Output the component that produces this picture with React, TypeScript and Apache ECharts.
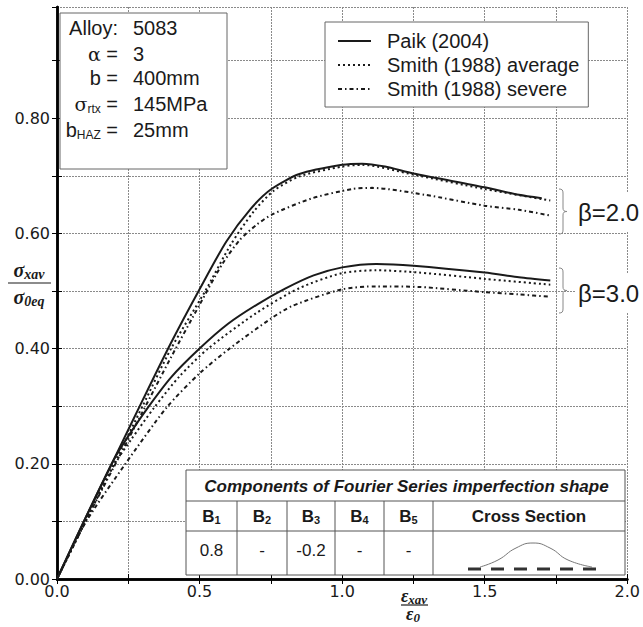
import React, { useEffect, useRef } from 'react';
import * as echarts from 'echarts';

// Normalised load-shortening curves: [strain ratio, stress ratio]
const paikBeta2: [number, number][] = [
  [0, 0], [0.1, 0.106], [0.2, 0.208], [0.3, 0.31], [0.4, 0.41], [0.5, 0.503],
  [0.594, 0.586], [0.68, 0.643], [0.752, 0.677], [0.85, 0.703], [1.0, 0.719],
  [1.07, 0.721], [1.15, 0.716], [1.25, 0.704], [1.5, 0.68], [1.62, 0.667], [1.7, 0.661],
];
const smithAvgBeta2: [number, number][] = [
  [0, 0], [0.1, 0.1], [0.2, 0.2], [0.3, 0.3], [0.4, 0.4], [0.52, 0.5],
  [0.61, 0.581], [0.69, 0.638], [0.76, 0.674], [0.85, 0.699], [1.0, 0.716],
  [1.07, 0.719], [1.25, 0.702], [1.5, 0.677], [1.73, 0.657],
];
const smithSevBeta2: [number, number][] = [
  [0, 0], [0.1, 0.1], [0.2, 0.195], [0.3, 0.29], [0.4, 0.385], [0.5, 0.476],
  [0.58, 0.547], [0.64, 0.588], [0.7, 0.615], [0.755, 0.633], [0.895, 0.661],
  [1.035, 0.677], [1.105, 0.679], [1.29, 0.667], [1.5, 0.648], [1.62, 0.641], [1.73, 0.631],
];
const paikBeta3: [number, number][] = [
  [0, 0], [0.1, 0.106], [0.2, 0.208], [0.25, 0.248], [0.315, 0.295], [0.4, 0.35],
  [0.5, 0.4], [0.6, 0.443], [0.7, 0.476], [0.8, 0.504], [0.9, 0.527], [1.0, 0.541],
  [1.12, 0.547], [1.25, 0.544], [1.5, 0.532], [1.62, 0.524], [1.73, 0.518],
];
const smithAvgBeta3: [number, number][] = [
  [0, 0], [0.1, 0.1], [0.2, 0.198], [0.26, 0.242], [0.34, 0.297], [0.43, 0.352],
  [0.53, 0.4], [0.7, 0.462], [0.85, 0.505], [1.0, 0.531], [1.12, 0.536],
  [1.27, 0.532], [1.5, 0.521], [1.73, 0.511],
];
const smithSevBeta3: [number, number][] = [
  [0, 0], [0.1, 0.098], [0.24, 0.2], [0.385, 0.298], [0.5, 0.357], [0.605, 0.4],
  [0.75, 0.452], [0.825, 0.474], [1.0, 0.503], [1.12, 0.508], [1.27, 0.507],
  [1.5, 0.498], [1.62, 0.494], [1.73, 0.49],
];

const seriesNames = ['Paik (2004)', 'Smith (1988) average', 'Smith (1988) severe'];
const betaLabels = ['β=2.0', 'β=3.0'];

// Fourier imperfection components table
const tableTitle = 'Components of Fourier Series imperfection shape';
const componentHeads = ['1', '2', '3', '4', '5'];
const componentValues = ['0.8', '-', '-0.2', '-', '-'];

// Plate parameters box
const paramLabels = ['Alloy:', '{g|α} =', 'b =', '{g|σ}{s|rtx} =', 'b{s|HAZ} ='];
const paramValues = ['5083', '3', '400mm', '145MPa', '25mm'];

const SANS = 'Liberation Sans';
const INK = '#1a1a1a';

// curly brace outline for the β groups
echarts.graphic.registerShape(
  'brace',
  echarts.graphic.extendPath(
    'M0,0 C3,0 4,1 4,4 L4,19 C4,21.5 5,22.5 8,22.5 C5,22.5 4,23.5 4,26 L4,41 C4,44 3,45 0,45',
    {}
  )
);

function curve(name: string, data: [number, number][], dash: any, z: number) {
  return {
    type: 'line',
    name,
    data,
    smooth: 0.25,
    showSymbol: false,
    symbol: 'none',
    silent: true,
    z,
    lineStyle: { color: INK, width: 2, type: dash },
    itemStyle: { color: INK },
  };
}

function txt(x: number, y: number, text: string, opts: any = {}) {
  const align = opts.align || 'center';
  return {
    type: 'text',
    x,
    y,
    z: 100,
    style: {
      text,
      fill: opts.fill || INK,
      fontSize: opts.fontSize || 20,
      fontFamily: opts.fontFamily || SANS,
      fontWeight: opts.fontWeight || 'normal',
      fontStyle: opts.fontStyle || 'normal',
      align,
      textAlign: align,
      verticalAlign: 'middle',
      textVerticalAlign: 'middle',
      rich: opts.rich,
      backgroundColor: opts.backgroundColor,
      padding: opts.padding,
    },
  };
}

function hline(x1: number, x2: number, y: number, stroke = '#555', w = 1, dash?: number[]) {
  return { type: 'line', z: 101, shape: { x1, y1: y, x2, y2: y }, style: { stroke, lineWidth: w, lineDash: dash } };
}
function vline(x: number, y1: number, y2: number, stroke = '#555', w = 1) {
  return { type: 'line', z: 101, shape: { x1: x, y1, x2: x, y2 }, style: { stroke, lineWidth: w } };
}

function buildGraphics() {
  const els: any[] = [];
  const paramRich = {
    g: { fontFamily: 'DejaVu Serif', fontSize: 19, fill: INK },
    s: { fontSize: 12, fill: INK, padding: [9, 0, 0, 0] },
  };

  // parameter box
  els.push({ type: 'rect', z: 99, shape: { x: 60, y: 13, width: 167, height: 156 }, style: { fill: '#fff', stroke: '#666', lineWidth: 1 } });
  const rows = [28, 54, 78, 104, 130];
  paramLabels.forEach((l, i) => {
    els.push(txt(118, rows[i], l, { align: 'right', rich: paramRich }));
    els.push(txt(133, rows[i], paramValues[i], { align: 'left' }));
  });

  // β group labels with braces
  [[189, 212], [268, 293]].forEach(([by, ty], i) => {
    els.push({ type: 'brace', x: 559, y: by, z: 100, style: { stroke: '#888', fill: null, lineWidth: 1 } });
    els.push(txt(576, ty, betaLabels[i], { align: 'left', fontSize: 24, backgroundColor: '#fff', padding: [7, 2, 7, 2] }));
  });

  // Fourier component table
  const tx0 = 186, tx1 = 625, ty0 = 470, ty1 = 501, ty2 = 531, ty3 = 575;
  const cols = [186, 237, 287, 335, 384, 433];
  els.push({ type: 'rect', z: 99, shape: { x: tx0, y: ty0, width: tx1 - tx0, height: ty3 - ty0 }, style: { fill: '#fff', stroke: '#555', lineWidth: 1 } });
  els.push(hline(tx0, tx1, ty1));
  els.push(hline(tx0, tx1, ty2));
  cols.slice(1).forEach((cx) => els.push(vline(cx, ty1, ty3)));
  els.push(txt((tx0 + tx1) / 2 + 1, 486, tableTitle, { fontSize: 17, fontWeight: 'bold', fontStyle: 'italic' }));
  const headRich = { s: { fontSize: 11, fontWeight: 'bold', fill: INK, padding: [7, 0, 0, 0] } };
  componentHeads.forEach((h, i) => {
    const cx = (cols[i] + (cols[i + 1] ?? 433)) / 2;
    els.push(txt(cx, 516, 'B{s|' + h + '}', { fontSize: 17, fontWeight: 'bold', rich: headRich }));
    els.push(txt(cx, 550, componentValues[i], { fontSize: 17 }));
  });
  els.push(txt((433 + tx1) / 2, 516, 'Cross Section', { fontSize: 17, fontWeight: 'bold' }));
  // cross-section sketch: buckled plate outline over dashed flat reference
  els.push({
    type: 'polyline', z: 101,
    shape: { points: [[480, 567], [498, 560], [516, 548], [533, 543], [550, 548], [568, 560], [592, 567]], smooth: 0.5 },
    style: { stroke: '#777', lineWidth: 1, fill: null },
  });
  els.push(hline(468, 596, 569, '#333', 3, [13, 10]));

  // axis titles as stacked fractions
  const fracRich = {
    v: { fontFamily: 'Liberation Serif', fontWeight: 'bold', fontStyle: 'italic', fontSize: 20, fill: INK },
    s: { fontFamily: 'Liberation Serif', fontWeight: 'bold', fontStyle: 'italic', fontSize: 14, fill: INK, padding: [8, 0, 0, 0] },
  };
  const xFracRich = {
    v: { fontFamily: 'Liberation Serif', fontWeight: 'bold', fontStyle: 'italic', fontSize: 18, fill: INK },
    s: { fontFamily: 'Liberation Serif', fontWeight: 'bold', fontStyle: 'italic', fontSize: 13, fill: INK, padding: [6, 0, 0, 0] },
  };
  els.push(txt(29, 270, '{v|σ}{s|xav}', { rich: fracRich }));
  els.push(hline(8, 51, 283, INK, 1.2));
  els.push(txt(29, 297, '{v|σ}{s|0eq}', { rich: fracRich }));
  els.push(txt(414, 596, '{v|ε}{s|xav}', { rich: xFracRich }));
  els.push(hline(401, 428, 605, INK, 1.2));
  els.push(txt(413, 614, '{v|ε}{s|0}', { rich: xFracRich }));
  return els;
}

export default function App() {
  const ref = useRef<HTMLDivElement>(null);
  useEffect(() => {
    if (!ref.current) return;
    const chart = echarts.init(ref.current, undefined, { renderer: 'svg' });
    const axisLine = { show: true, lineStyle: { color: '#000', width: 2.5 } };
    const tick = { show: true, inside: true, length: 5, lineStyle: { color: '#000', width: 1 } };
    const grid = { show: true, lineStyle: { color: '#8a8a8a', width: 1, type: [2, 1] } };
    const isStep = (v: number, s: number) => Math.abs(v / s - Math.round(v / s)) < 1e-6;
    chart.setOption({
      animation: false,
      backgroundColor: '#fff',
      grid: { left: 57, right: 14, top: 7, bottom: 48, containLabel: false },
      legend: {
        left: 325,
        top: 22,
        orient: 'vertical',
        data: seriesNames,
        itemWidth: 33,
        itemHeight: 14,
        itemGap: 4,
        padding: [9, 9, 8, 12],
        backgroundColor: '#fff',
        borderColor: '#666',
        borderWidth: 1,
        borderRadius: 0,
        z: 50,
        itemStyle: { opacity: 0, borderWidth: 0 },
        textStyle: { fontFamily: SANS, fontSize: 20, color: INK, lineHeight: 20, padding: [0, 0, 0, 11] },
      },
      xAxis: [
        {
          type: 'value', min: 0, max: 2, interval: 0.25,
          axisLine, axisTick: tick, splitLine: grid,
          axisLabel: {
            margin: 4, fontFamily: 'DejaVu Sans', fontSize: 16, color: INK,
            formatter: (v: number) => (isStep(v, 0.5) ? v.toFixed(1) : ''),
          },
        },
        {
          type: 'value', position: 'top', min: 0, max: 2, interval: 0.25,
          axisLine, axisTick: tick, splitLine: { show: false }, axisLabel: { show: false },
        },
      ],
      yAxis: [
        {
          type: 'value', min: 0, max: 0.993, interval: 0.1,
          axisLine, axisTick: tick, splitLine: grid,
          axisLabel: {
            margin: 7, fontFamily: 'DejaVu Sans', fontSize: 16, color: INK,
            showMaxLabel: false,
            formatter: (v: number) => (isStep(v, 0.2) && v < 0.95 ? v.toFixed(2) : ''),
          },
        },
        {
          type: 'value', position: 'right', min: 0, max: 0.993, interval: 0.1,
          axisLine, axisTick: tick, splitLine: { show: false }, axisLabel: { show: false },
        },
      ],
      series: [
        curve(seriesNames[2], smithSevBeta2, [4, 3, 1.5, 3], 3),
        curve(seriesNames[2], smithSevBeta3, [4, 3, 1.5, 3], 3),
        curve(seriesNames[1], smithAvgBeta2, [2, 3], 4),
        curve(seriesNames[1], smithAvgBeta3, [2, 3], 4),
        curve(seriesNames[0], paikBeta2, 'solid', 5),
        curve(seriesNames[0], paikBeta3, 'solid', 5),
      ],
      graphic: { elements: buildGraphics() },
    });
    return () => chart.dispose();
  }, []);
  return <div ref={ref} style={{ position: 'fixed', left: 0, top: 0, width: 643, height: 627 }} />;
}
